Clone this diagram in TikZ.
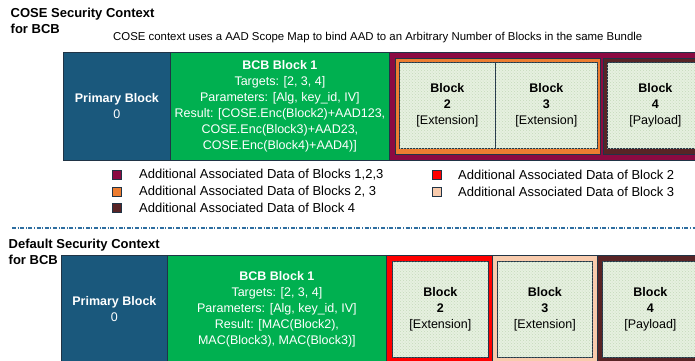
\documentclass[tikz,border=0pt]{standalone}
\usepackage{fontspec}
\setmainfont{Liberation Sans}
\usetikzlibrary{positioning,patterns}

\definecolor{primblue}{RGB}{26,88,124}
\definecolor{bcbgreen}{RGB}{0,176,80}
\definecolor{aadmaroon}{RGB}{139,10,66}
\definecolor{aadorange}{RGB}{237,125,49}
\definecolor{aadbrown}{RGB}{88,36,38}
\definecolor{aadred}{RGB}{255,0,0}
\definecolor{aadpeach}{RGB}{248,203,173}
\definecolor{blkfill}{RGB}{230,240,224}
\definecolor{blkdots}{RGB}{196,218,186}
\definecolor{edgeblue}{RGB}{32,52,70}
\definecolor{sepblue}{RGB}{46,110,160}

\begin{document}
\begin{tikzpicture}[x=1pt,y=-1pt,
    blk/.style={draw=edgeblue,line width=0.8pt,anchor=north west,inner sep=0pt,
        align=center,minimum height=#1,font=\fontsize{12.5}{16}\selectfont},
    blk/.default=108pt,
    tgt/.style={fill=blkfill,postaction={pattern=crosshatch dots,pattern color=blkdots}},
    legsq/.style={draw=edgeblue,line width=0.9pt,minimum size=9pt,inner sep=0pt},
    legtxt/.style={inner sep=0pt,font=\fontsize{13}{16}\selectfont},
    ttl/.style={anchor=north west,inner sep=0pt,align=left,
        font=\fontsize{13}{16.8}\selectfont\bfseries}]
    \useasboundingbox (0,0) rectangle (695,360);
    \clip (0,0) rectangle (695,360);

    % 标题
    \node[ttl] (ttlA) at (10.5,7.5) {COSE Security Context\\for BCB};
    \node[anchor=base west,inner sep=0pt,font=\fontsize{11.4}{14}\selectfont] (subA)
        at (113,40.5) {COSE context uses a AAD Scope Map to bind AAD to an Arbitrary Number of Blocks in the same Bundle};

    % 上面一行的块
    \node[blk,fill=primblue,text=white,minimum width=107pt] (primA) at (63,52)
        {\textbf{Primary Block}\\0};
    \node[blk,fill=bcbgreen,text=white,minimum width=219pt] (bcbA) at (170,52)
        {\textbf{BCB Block 1}\\Targets: [2, 3, 4]\\Parameters: [Alg, key\_id, IV]\\
         Result: [COSE.Enc(Block2)+AAD123,\\COSE.Enc(Block3)+AAD23,\\COSE.Enc(Block4)+AAD4)]};
    \node[blk,fill=aadmaroon,minimum width=330pt] (aadA) at (389,52) {};
    \node[blk=96pt,fill=aadorange,minimum width=205pt] (aadB) at (395,58) {};
    \node[blk=96pt,fill=aadbrown,minimum width=110pt] (aadC) at (603,58) {};
    \node[blk=86pt,tgt,minimum width=96pt] (blkA) at (399,62)
        {\textbf{Block}\\\textbf{2}\\{[Extension]}};
    \node[blk=86pt,tgt,minimum width=102pt] (blkB) at (495,62)
        {\textbf{Block}\\\textbf{3}\\{[Extension]}};
    \node[blk=86pt,tgt,minimum width=96pt] (blkC) at (607,62)
        {\textbf{Block}\\\textbf{4}\\{[Payload]}};

    % 图例
    \node[legsq,fill=aadmaroon] (legA) at (117,175) {};
    \node[legsq,fill=aadorange] (legB) at (117,191.5) {};
    \node[legsq,fill=aadbrown] (legC) at (117,208) {};
    \node[legsq,fill=aadred] (legD) at (437,175) {};
    \node[legsq,fill=aadpeach] (legE) at (437,191.5) {};
    \node[legtxt,right=17pt of legA] (legtA) {Additional Associated Data of Blocks 1,2,3};
    \node[legtxt,right=17pt of legB] (legtB) {Additional Associated Data of Blocks 2, 3};
    \node[legtxt,right=17pt of legC] (legtC) {Additional Associated Data of Block 4};
    \node[legtxt,right=16pt of legD] (legtD) {Additional Associated Data of Block 2};
    \node[legtxt,right=16pt of legE] (legtE) {Additional Associated Data of Block 3};

    % 分隔线
    \coordinate (sepL) at (12,228);
    \coordinate (sepR) at (695,228);
    \draw[sepblue,line width=1.3pt,dash pattern=on 4pt off 1.6pt on 1pt off 1.6pt] (sepL) -- (sepR);

    % 下面一行的块
    \node[ttl] (ttlB) at (8.5,238.5) {Default Security Context\\for BCB};
    \node[blk,fill=primblue,text=white,minimum width=106pt] (primB) at (61,255)
        {\textbf{Primary Block}\\0};
    \node[blk,fill=bcbgreen,text=white,minimum width=219pt] (bcbB) at (167,255)
        {\textbf{BCB Block 1}\\Targets: [2, 3, 4]\\Parameters: [Alg, key\_id, IV]\\
         Result: [MAC(Block2),\\MAC(Block3), MAC(Block3)]};
    \node[blk,fill=aadred,minimum width=106pt] (aadD) at (386,255) {};
    \node[blk,fill=aadpeach,minimum width=105pt] (aadE) at (492,255) {};
    \node[blk,fill=aadbrown,minimum width=110pt] (aadF) at (597,255) {};
    \node[blk=96pt,tgt,minimum width=96pt] (blkD) at (392,261)
        {\textbf{Block}\\\textbf{2}\\{[Extension]}};
    \node[blk=96pt,tgt,minimum width=95pt] (blkE) at (497,261)
        {\textbf{Block}\\\textbf{3}\\{[Extension]}};
    \node[blk=96pt,tgt,minimum width=96pt] (blkF) at (602,261)
        {\textbf{Block}\\\textbf{4}\\{[Payload]}};
\end{tikzpicture}
\end{document}
